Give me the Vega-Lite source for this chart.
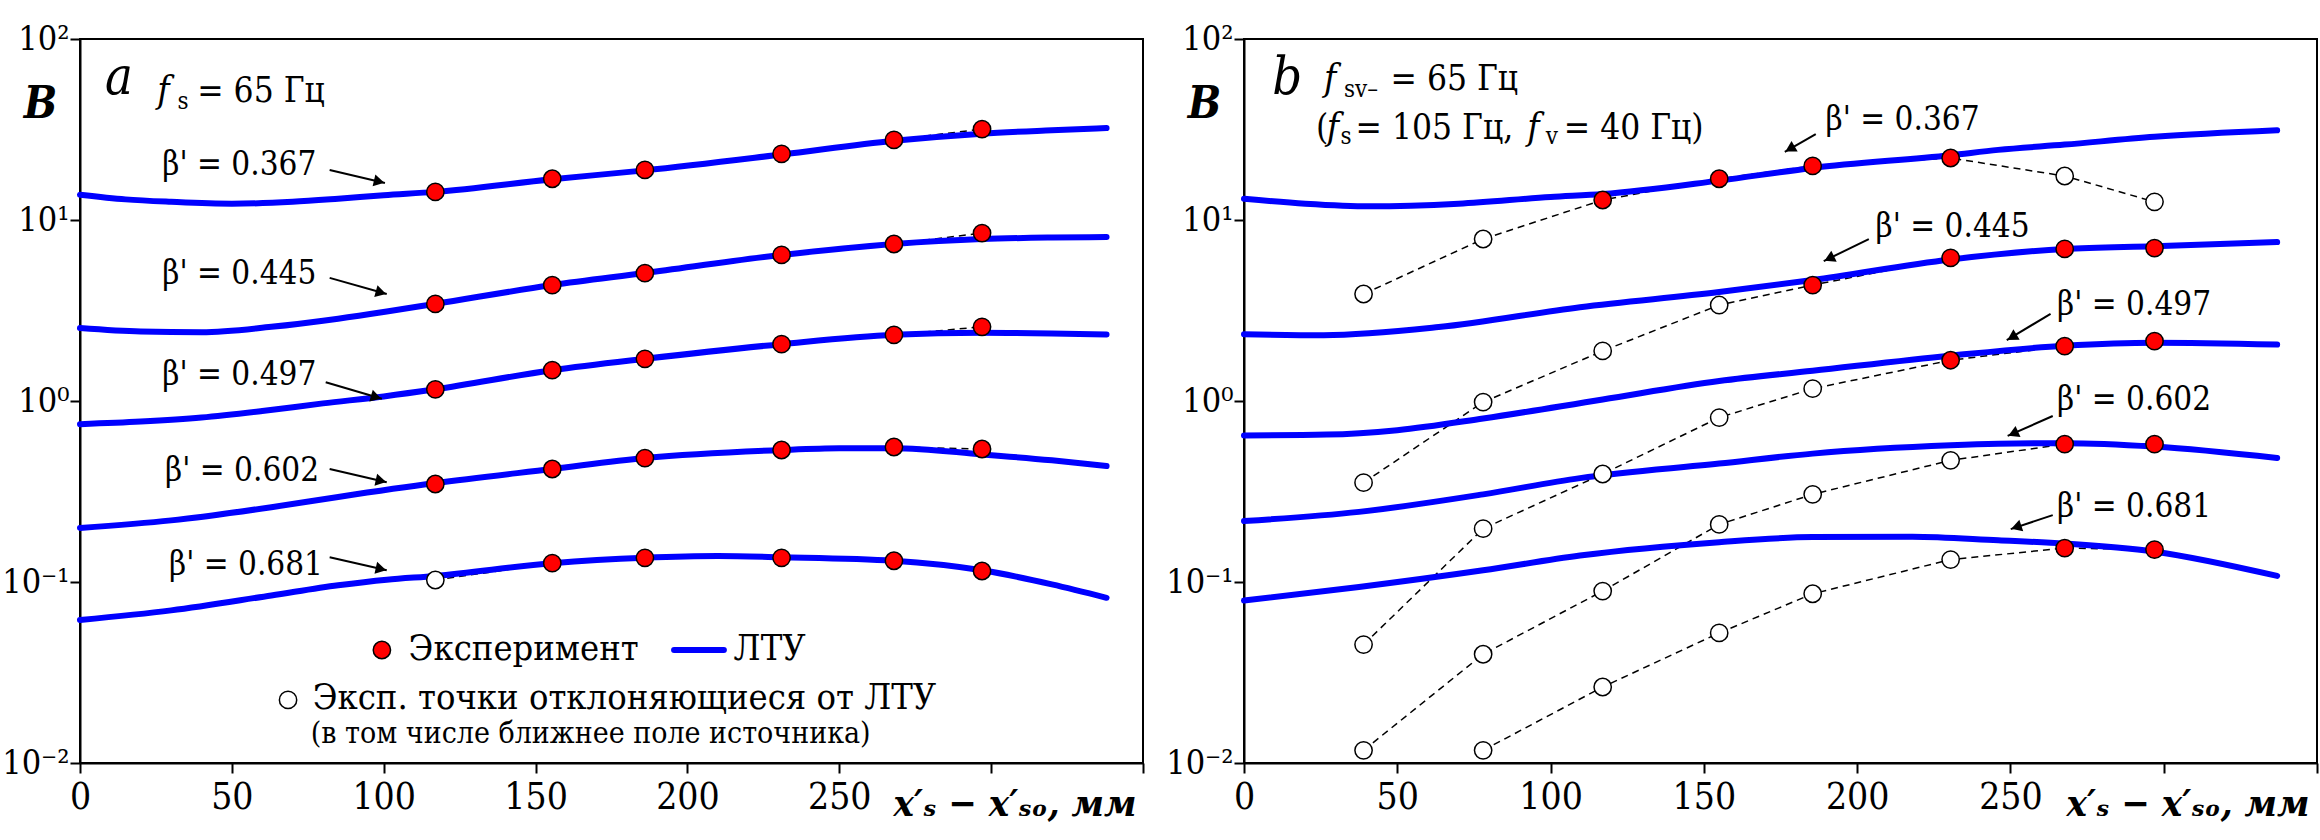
{
 "$schema": "https://vega.github.io/schema/vega-lite/v6.json",
 "background": "white",
 "padding": {"left": 0, "top": 21, "right": 0, "bottom": 0},
 "bounds": "flush",
 "spacing": 101,
 "config": {
  "font": "DejaVu Serif Condensed, DejaVu Serif",
  "view": {"stroke": "black", "strokeWidth": 2},
  "axis": {"grid": false, "domainColor": "black", "domainWidth": 2, "tickColor": "black", "tickWidth": 2, "tickSize": 10, "labelColor": "black", "labelFont": "DejaVu Serif Condensed, DejaVu Serif", "labelFontSize": 37, "titleFont": "DejaVu Serif Condensed, DejaVu Serif", "titleColor": "black"},
  "text": {"color": "black", "font": "DejaVu Serif Condensed, DejaVu Serif"}
 },
 "datasets": {
  "la": [
   {"b":"0.367","x":0,"B":13.8},{"b":"0.367","x":15,"B":13.0},{"b":"0.367","x":30,"B":12.6},{"b":"0.367","x":50,"B":12.3},{"b":"0.367","x":70,"B":12.6},{"b":"0.367","x":85,"B":13.1},{"b":"0.367","x":100,"B":13.7},{"b":"0.367","x":117,"B":14.3},{"b":"0.367","x":155.5,"B":16.8},{"b":"0.367","x":186,"B":18.8},{"b":"0.367","x":231,"B":23.0},{"b":"0.367","x":268,"B":27.4},{"b":"0.367","x":297,"B":30.0},{"b":"0.367","x":320,"B":31.3},{"b":"0.367","x":338,"B":32.2},
   {"b":"0.445","x":0,"B":2.53},{"b":"0.445","x":20,"B":2.42},{"b":"0.445","x":40,"B":2.40},{"b":"0.445","x":63,"B":2.57},{"b":"0.445","x":85,"B":2.85},{"b":"0.445","x":101,"B":3.12},{"b":"0.445","x":117,"B":3.44},{"b":"0.445","x":155.5,"B":4.37},{"b":"0.445","x":186,"B":5.09},{"b":"0.445","x":231,"B":6.41},{"b":"0.445","x":268,"B":7.37},{"b":"0.445","x":297,"B":7.85},{"b":"0.445","x":320,"B":8.0},{"b":"0.445","x":338,"B":8.05},
   {"b":"0.497","x":0,"B":0.745},{"b":"0.497","x":20,"B":0.77},{"b":"0.497","x":40,"B":0.81},{"b":"0.497","x":60,"B":0.88},{"b":"0.497","x":80,"B":0.97},{"b":"0.497","x":100,"B":1.06},{"b":"0.497","x":117,"B":1.16},{"b":"0.497","x":155.5,"B":1.48},{"b":"0.497","x":186,"B":1.71},{"b":"0.497","x":231,"B":2.06},{"b":"0.497","x":268,"B":2.32},{"b":"0.497","x":297,"B":2.38},{"b":"0.497","x":320,"B":2.36},{"b":"0.497","x":338,"B":2.33},
   {"b":"0.602","x":0,"B":0.199},{"b":"0.602","x":30,"B":0.219},{"b":"0.602","x":63,"B":0.259},{"b":"0.602","x":85,"B":0.295},{"b":"0.602","x":117,"B":0.352},{"b":"0.602","x":155.5,"B":0.421},{"b":"0.602","x":186,"B":0.484},{"b":"0.602","x":231,"B":0.536},{"b":"0.602","x":250,"B":0.548},{"b":"0.602","x":268,"B":0.549},{"b":"0.602","x":297,"B":0.507},{"b":"0.602","x":320,"B":0.47},{"b":"0.602","x":338,"B":0.437},
   {"b":"0.681","x":0,"B":0.0617},{"b":"0.681","x":30,"B":0.0697},{"b":"0.681","x":63,"B":0.0843},{"b":"0.681","x":85,"B":0.0959},{"b":"0.681","x":101,"B":0.103},{"b":"0.681","x":117,"B":0.108},{"b":"0.681","x":155.5,"B":0.127},{"b":"0.681","x":186,"B":0.136},{"b":"0.681","x":210,"B":0.139},{"b":"0.681","x":231,"B":0.137},{"b":"0.681","x":268,"B":0.131},{"b":"0.681","x":297,"B":0.116},{"b":"0.681","x":320,"B":0.097},{"b":"0.681","x":338,"B":0.0818}
  ],
  "pa": [
   {"b":"0.367","x":117,"B":14.3,"k":"e"},{"b":"0.367","x":155.5,"B":16.9,"k":"e"},{"b":"0.367","x":186,"B":18.9,"k":"e"},{"b":"0.367","x":231,"B":23.2,"k":"e"},{"b":"0.367","x":268,"B":27.7,"k":"e"},{"b":"0.367","x":297,"B":31.8,"k":"e"},
   {"b":"0.445","x":117,"B":3.44,"k":"e"},{"b":"0.445","x":155.5,"B":4.37,"k":"e"},{"b":"0.445","x":186,"B":5.09,"k":"e"},{"b":"0.445","x":231,"B":6.41,"k":"e"},{"b":"0.445","x":268,"B":7.37,"k":"e"},{"b":"0.445","x":297,"B":8.47,"k":"e"},
   {"b":"0.497","x":117,"B":1.16,"k":"e"},{"b":"0.497","x":155.5,"B":1.48,"k":"e"},{"b":"0.497","x":186,"B":1.71,"k":"e"},{"b":"0.497","x":231,"B":2.06,"k":"e"},{"b":"0.497","x":268,"B":2.32,"k":"e"},{"b":"0.497","x":297,"B":2.57,"k":"e"},
   {"b":"0.602","x":117,"B":0.348,"k":"e"},{"b":"0.602","x":155.5,"B":0.421,"k":"e"},{"b":"0.602","x":186,"B":0.484,"k":"e"},{"b":"0.602","x":231,"B":0.536,"k":"e"},{"b":"0.602","x":268,"B":0.557,"k":"e"},{"b":"0.602","x":297,"B":0.543,"k":"e"},
   {"b":"0.681","x":117,"B":0.1026,"k":"d"},{"b":"0.681","x":155.5,"B":0.127,"k":"e"},{"b":"0.681","x":186,"B":0.136,"k":"e"},{"b":"0.681","x":231,"B":0.136,"k":"e"},{"b":"0.681","x":268,"B":0.131,"k":"e"},{"b":"0.681","x":297,"B":0.115,"k":"e"}
  ],
  "lb": [
   {"b":"0.367","x":0,"B":13.1},{"b":"0.367","x":20,"B":12.3},{"b":"0.367","x":41,"B":11.9},{"b":"0.367","x":70,"B":12.3},{"b":"0.367","x":100,"B":13.4},{"b":"0.367","x":117,"B":13.9},{"b":"0.367","x":155,"B":16.5},{"b":"0.367","x":185.5,"B":19.4},{"b":"0.367","x":230.5,"B":22.8},{"b":"0.367","x":246,"B":24.4},{"b":"0.367","x":267.7,"B":26.1},{"b":"0.367","x":297,"B":28.8},{"b":"0.367","x":337,"B":31.3},
   {"b":"0.445","x":0,"B":2.34},{"b":"0.445","x":26,"B":2.31},{"b":"0.445","x":63.5,"B":2.56},{"b":"0.445","x":109.6,"B":3.30},{"b":"0.445","x":155,"B":4.0},{"b":"0.445","x":185.5,"B":4.66},{"b":"0.445","x":230.5,"B":6.05},{"b":"0.445","x":267.7,"B":6.92},{"b":"0.445","x":297,"B":7.17},{"b":"0.445","x":337,"B":7.55},
   {"b":"0.497","x":0,"B":0.645},{"b":"0.497","x":27,"B":0.652},{"b":"0.497","x":50,"B":0.69},{"b":"0.497","x":78,"B":0.80},{"b":"0.497","x":117,"B":1.02},{"b":"0.497","x":155,"B":1.29},{"b":"0.497","x":185.5,"B":1.47},{"b":"0.497","x":230.5,"B":1.78},{"b":"0.497","x":267.7,"B":2.02},{"b":"0.497","x":297,"B":2.10},{"b":"0.497","x":337,"B":2.05},
   {"b":"0.602","x":0,"B":0.217},{"b":"0.602","x":37.5,"B":0.244},{"b":"0.602","x":78,"B":0.305},{"b":"0.602","x":109.6,"B":0.375},{"b":"0.602","x":155,"B":0.451},{"b":"0.602","x":185.5,"B":0.512},{"b":"0.602","x":230.5,"B":0.569},{"b":"0.602","x":246,"B":0.58},{"b":"0.602","x":267.7,"B":0.585},{"b":"0.602","x":297,"B":0.56},{"b":"0.602","x":337,"B":0.484},
   {"b":"0.681","x":0,"B":0.079},{"b":"0.681","x":37.5,"B":0.0938},{"b":"0.681","x":78,"B":0.116},{"b":"0.681","x":109.6,"B":0.140},{"b":"0.681","x":155,"B":0.166},{"b":"0.681","x":185.5,"B":0.177},{"b":"0.681","x":218,"B":0.178},{"b":"0.681","x":246,"B":0.170},{"b":"0.681","x":267.7,"B":0.163},{"b":"0.681","x":297,"B":0.147},{"b":"0.681","x":337,"B":0.108}
  ],
  "pb": [
   {"b":"0.367","x":39,"B":3.9,"k":"d"},{"b":"0.367","x":78,"B":7.85,"k":"d"},{"b":"0.367","x":117,"B":12.9,"k":"e"},{"b":"0.367","x":155,"B":16.9,"k":"e"},{"b":"0.367","x":185.5,"B":19.9,"k":"e"},{"b":"0.367","x":230.5,"B":22.0,"k":"e"},{"b":"0.367","x":267.7,"B":17.5,"k":"d"},{"b":"0.367","x":297,"B":12.6,"k":"d"},
   {"b":"0.445","x":39,"B":0.354,"k":"d"},{"b":"0.445","x":78,"B":0.986,"k":"d"},{"b":"0.445","x":117,"B":1.89,"k":"d"},{"b":"0.445","x":155,"B":3.39,"k":"d"},{"b":"0.445","x":185.5,"B":4.37,"k":"e"},{"b":"0.445","x":230.5,"B":6.17,"k":"e"},{"b":"0.445","x":267.7,"B":6.92,"k":"e"},{"b":"0.445","x":297,"B":7.0,"k":"e"},
   {"b":"0.497","x":39,"B":0.0451,"k":"d"},{"b":"0.497","x":78,"B":0.197,"k":"d"},{"b":"0.497","x":117,"B":0.395,"k":"d"},{"b":"0.497","x":155,"B":0.81,"k":"d"},{"b":"0.497","x":185.5,"B":1.17,"k":"d"},{"b":"0.497","x":230.5,"B":1.68,"k":"e"},{"b":"0.497","x":267.7,"B":2.01,"k":"e"},{"b":"0.497","x":297,"B":2.14,"k":"e"},
   {"b":"0.602","x":39,"B":0.01175,"k":"d"},{"b":"0.602","x":78,"B":0.0399,"k":"d"},{"b":"0.602","x":117,"B":0.0891,"k":"d"},{"b":"0.602","x":155,"B":0.208,"k":"d"},{"b":"0.602","x":185.5,"B":0.305,"k":"d"},{"b":"0.602","x":230.5,"B":0.470,"k":"d"},{"b":"0.602","x":267.7,"B":0.578,"k":"e"},{"b":"0.602","x":297,"B":0.578,"k":"e"},
   {"b":"0.681","x":78,"B":0.01175,"k":"d"},{"b":"0.681","x":117,"B":0.0263,"k":"d"},{"b":"0.681","x":155,"B":0.0523,"k":"d"},{"b":"0.681","x":185.5,"B":0.0861,"k":"d"},{"b":"0.681","x":230.5,"B":0.133,"k":"d"},{"b":"0.681","x":267.7,"B":0.154,"k":"e"},{"b":"0.681","x":297,"B":0.151,"k":"e"}
  ],
  "ta": [
   {"r":"L","x":8.2,"B":49.6,"t":"a"},
   {"r":"F","x":25.4,"B":44.9,"t":"f"},
   {"r":"S","x":32.1,"B":41.0,"t":"s"},
   {"r":"H","x":38.6,"B":44.9,"t":"= 65 Гц"},
   {"r":"P","x":27.1,"B":17.7,"t":"β' = 0.367"},
   {"r":"P","x":27.1,"B":4.45,"t":"β' = 0.445"},
   {"r":"P","x":27.1,"B":1.222,"t":"β' = 0.497"},
   {"r":"P","x":28.0,"B":0.360,"t":"β' = 0.602"},
   {"r":"P","x":29.3,"B":0.1096,"t":"β' = 0.681"},
   {"r":"G","x":108.2,"B":0.0369,"t":"Эксперимент"},
   {"r":"G","x":215.2,"B":0.0369,"t":"ЛТУ"},
   {"r":"G","x":76.6,"B":0.0198,"t":"Эксп. точки отклоняющиеся от ЛТУ"},
   {"r":"Q","x":76.0,"B":0.01295,"t":"(в том числе ближнее поле источника)"}
  ],
  "tb": [
   {"r":"L","x":9.2,"B":49.6,"t":"b"},
   {"r":"F","x":26.1,"B":52.0,"t":"f"},
   {"r":"S","x":32.6,"B":47.9,"t":"sv–"},
   {"r":"H","x":47.8,"B":52.0,"t":"= 65 Гц"},
   {"r":"H","x":23.5,"B":28.1,"t":"("},
   {"r":"F","x":27.0,"B":28.1,"t":"f"},
   {"r":"S","x":31.5,"B":26.4,"t":"s"},
   {"r":"H","x":36.4,"B":28.1,"t":"= 105 Гц,"},
   {"r":"F","x":92.4,"B":28.1,"t":"f"},
   {"r":"S","x":98.4,"B":26.4,"t":"v"},
   {"r":"H","x":104.3,"B":28.1,"t":"= 40 Гц)"},
   {"r":"P","x":189.7,"B":31.3,"t":"β' = 0.367"},
   {"r":"P","x":206.0,"B":8.05,"t":"β' = 0.445"},
   {"r":"P","x":265.2,"B":2.97,"t":"β' = 0.497"},
   {"r":"P","x":265.2,"B":0.889,"t":"β' = 0.602"},
   {"r":"P","x":265.2,"B":0.229,"t":"β' = 0.681"}
  ],
  "ra": [
   {"x":82.2,"B":18.9,"x2":100.4,"B2":16.0},
   {"x":82.2,"B":4.79,"x2":101,"B2":3.90},
   {"x":80.9,"B":1.27,"x2":99.4,"B2":1.03},
   {"x":82.2,"B":0.421,"x2":101,"B2":0.356},
   {"x":82.2,"B":0.137,"x2":101,"B2":0.116}
  ],
  "ha": [
   {"x":98.5,"B":16.3,"dir":13.1},
   {"x":99.1,"B":3.97,"dir":15.4},
   {"x":97.5,"B":1.05,"dir":16.6},
   {"x":99.1,"B":0.362,"dir":12.6},
   {"x":99.1,"B":0.118,"dir":12.6}
  ],
  "rb": [
   {"x":186.5,"B":29.8,"x2":176.4,"B2":23.8},
   {"x":203.8,"B":7.85,"x2":189.1,"B2":5.93},
   {"x":263.1,"B":3.03,"x2":248.8,"B2":2.17},
   {"x":263.8,"B":0.826,"x2":249.1,"B2":0.641},
   {"x":263.8,"B":0.234,"x2":250.1,"B2":0.196}
  ],
  "hb": [
   {"x":178.1,"B":24.7,"dir":149.9},
   {"x":190.9,"B":6.13,"dir":153.9},
   {"x":250.5,"B":2.25,"dir":149.4},
   {"x":250.9,"B":0.660,"dir":156},
   {"x":251.9,"B":0.201,"dir":161.6}
  ],
  "lgp": [
   {"x":99.4,"B":0.0421,"k":"e"},
   {"x":68.5,"B":0.0223,"k":"d"}
  ],
  "lgl": [
   {"x":195.6,"x2":212,"B":0.0421}
  ]
 },
 "hconcat": [
  {
   "width": 1063, "height": 724,
   "encoding": {
    "x": {"field": "x", "type": "quantitative", "scale": {"domain": [0, 350], "nice": false, "zero": false},
          "axis": {"values": [0,50,100,150,200,250,300,350], "labelExpr": "datum.value >= 300 ? '' : datum.label", "labelPadding": 6, "labelFlush": false, "labelOverlap": false,
                   "title": "x′ₛ − x′ₛₒ, мм", "titleFontSize": 38, "titleFontWeight": "bold", "titleFontStyle": "italic", "titleX": 1056, "titleY": 52, "titleAlign": "right", "titleBaseline": "alphabetic"}},
    "y": {"field": "B", "type": "quantitative", "scale": {"type": "log", "domain": [0.01, 100], "nice": false},
          "axis": {"values": [0.01,0.1,1,10,100], "labelExpr": "'10' + (datum.value >= 99 ? '²' : datum.value >= 9 ? '¹' : datum.value >= 0.9 ? '⁰' : datum.value >= 0.09 ? '⁻¹' : '⁻²')", "labelPadding": 1, "labelFontSize": 34,
                   "title": "B", "titleAngle": 0, "titleX": -40, "titleY": 65, "titleFontSize": 44, "titleFontStyle": "italic", "titleFontWeight": "bold", "titleAlign": "center", "titleBaseline": "middle"}}
   },
   "layer": [
    {"data": {"name": "pa"}, "mark": {"type": "line", "color": "black", "strokeWidth": 1.5, "strokeDash": [7, 5]}, "encoding": {"detail": {"field": "b"}}},
    {"data": {"name": "la"}, "mark": {"type": "line", "color": "#0000ff", "strokeWidth": 6, "interpolate": "monotone", "strokeCap": "round"}, "encoding": {"detail": {"field": "b"}}},
    {"data": {"name": "pa"}, "mark": {"type": "point", "shape": "circle", "filled": true, "size": 300, "stroke": "black", "strokeWidth": 1.5, "opacity": 1}, "encoding": {"fill": {"field": "k", "type": "nominal", "scale": {"domain": ["e", "d"], "range": ["#ff0000", "#ffffff"]}, "legend": null}}},
    {"data": {"name": "lgp"}, "mark": {"type": "point", "shape": "circle", "filled": true, "size": 300, "stroke": "black", "strokeWidth": 1.5, "opacity": 1}, "encoding": {"fill": {"field": "k", "type": "nominal", "scale": {"domain": ["e", "d"], "range": ["#ff0000", "#ffffff"]}, "legend": null}}},
    {"data": {"name": "lgl"}, "mark": {"type": "rule", "color": "#0000ff", "strokeWidth": 6, "strokeCap": "round"}, "encoding": {"x2": {"field": "x2"}}},
    {"data": {"name": "ra"}, "mark": {"type": "rule", "color": "black", "strokeWidth": 2}, "encoding": {"x2": {"field": "x2"}, "y2": {"field": "B2"}}},
    {"data": {"name": "ha"}, "mark": {"type": "point", "shape": "triangle-right", "filled": true, "color": "black", "size": 150, "opacity": 1}, "encoding": {"angle": {"field": "dir", "type": "quantitative", "scale": null}}},
    {"data": {"name": "ta"}, "transform": [{"filter": "datum.r == 'L'"}], "mark": {"type": "text", "align": "left", "baseline": "alphabetic", "fontSize": 52, "fontStyle": "italic"}, "encoding": {"text": {"field": "t"}}},
    {"data": {"name": "ta"}, "transform": [{"filter": "datum.r == 'F'"}], "mark": {"type": "text", "align": "left", "baseline": "alphabetic", "fontSize": 37, "fontStyle": "italic"}, "encoding": {"text": {"field": "t"}}},
    {"data": {"name": "ta"}, "transform": [{"filter": "datum.r == 'S'"}], "mark": {"type": "text", "align": "left", "baseline": "alphabetic", "fontSize": 24}, "encoding": {"text": {"field": "t"}}},
    {"data": {"name": "ta"}, "transform": [{"filter": "datum.r == 'H'"}], "mark": {"type": "text", "align": "left", "baseline": "alphabetic", "fontSize": 35}, "encoding": {"text": {"field": "t"}}},
    {"data": {"name": "ta"}, "transform": [{"filter": "datum.r == 'P'"}], "mark": {"type": "text", "align": "left", "baseline": "alphabetic", "fontSize": 33}, "encoding": {"text": {"field": "t"}}},
    {"data": {"name": "ta"}, "transform": [{"filter": "datum.r == 'G'"}], "mark": {"type": "text", "align": "left", "baseline": "alphabetic", "fontSize": 36}, "encoding": {"text": {"field": "t"}}},
    {"data": {"name": "ta"}, "transform": [{"filter": "datum.r == 'Q'"}], "mark": {"type": "text", "align": "left", "baseline": "alphabetic", "fontSize": 30}, "encoding": {"text": {"field": "t"}}}
   ]
  },
  {
   "width": 1073, "height": 724,
   "encoding": {
    "x": {"field": "x", "type": "quantitative", "scale": {"domain": [0, 350], "nice": false, "zero": false},
          "axis": {"values": [0,50,100,150,200,250,300,350], "labelExpr": "datum.value >= 300 ? '' : datum.label", "labelPadding": 6, "labelFlush": false, "labelOverlap": false,
                   "title": "x′ₛ − x′ₛₒ, мм", "titleFontSize": 38, "titleFontWeight": "bold", "titleFontStyle": "italic", "titleX": 1065, "titleY": 52, "titleAlign": "right", "titleBaseline": "alphabetic"}},
    "y": {"field": "B", "type": "quantitative", "scale": {"type": "log", "domain": [0.01, 100], "nice": false},
          "axis": {"values": [0.01,0.1,1,10,100], "labelExpr": "'10' + (datum.value >= 99 ? '²' : datum.value >= 9 ? '¹' : datum.value >= 0.9 ? '⁰' : datum.value >= 0.09 ? '⁻¹' : '⁻²')", "labelPadding": 1, "labelFontSize": 34,
                   "title": "B", "titleAngle": 0, "titleX": -40, "titleY": 65, "titleFontSize": 44, "titleFontStyle": "italic", "titleFontWeight": "bold", "titleAlign": "center", "titleBaseline": "middle"}}
   },
   "layer": [
    {"data": {"name": "pb"}, "mark": {"type": "line", "color": "black", "strokeWidth": 1.5, "strokeDash": [7, 5]}, "encoding": {"detail": {"field": "b"}}},
    {"data": {"name": "lb"}, "mark": {"type": "line", "color": "#0000ff", "strokeWidth": 6, "interpolate": "monotone", "strokeCap": "round"}, "encoding": {"detail": {"field": "b"}}},
    {"data": {"name": "pb"}, "mark": {"type": "point", "shape": "circle", "filled": true, "size": 300, "stroke": "black", "strokeWidth": 1.5, "opacity": 1}, "encoding": {"fill": {"field": "k", "type": "nominal", "scale": {"domain": ["e", "d"], "range": ["#ff0000", "#ffffff"]}, "legend": null}}},
    {"data": {"name": "rb"}, "mark": {"type": "rule", "color": "black", "strokeWidth": 2}, "encoding": {"x2": {"field": "x2"}, "y2": {"field": "B2"}}},
    {"data": {"name": "hb"}, "mark": {"type": "point", "shape": "triangle-right", "filled": true, "color": "black", "size": 150, "opacity": 1}, "encoding": {"angle": {"field": "dir", "type": "quantitative", "scale": null}}},
    {"data": {"name": "tb"}, "transform": [{"filter": "datum.r == 'L'"}], "mark": {"type": "text", "align": "left", "baseline": "alphabetic", "fontSize": 52, "fontStyle": "italic"}, "encoding": {"text": {"field": "t"}}},
    {"data": {"name": "tb"}, "transform": [{"filter": "datum.r == 'F'"}], "mark": {"type": "text", "align": "left", "baseline": "alphabetic", "fontSize": 37, "fontStyle": "italic"}, "encoding": {"text": {"field": "t"}}},
    {"data": {"name": "tb"}, "transform": [{"filter": "datum.r == 'S'"}], "mark": {"type": "text", "align": "left", "baseline": "alphabetic", "fontSize": 24}, "encoding": {"text": {"field": "t"}}},
    {"data": {"name": "tb"}, "transform": [{"filter": "datum.r == 'H'"}], "mark": {"type": "text", "align": "left", "baseline": "alphabetic", "fontSize": 35}, "encoding": {"text": {"field": "t"}}},
    {"data": {"name": "tb"}, "transform": [{"filter": "datum.r == 'P'"}], "mark": {"type": "text", "align": "left", "baseline": "alphabetic", "fontSize": 33}, "encoding": {"text": {"field": "t"}}}
   ]
  }
 ]
}
